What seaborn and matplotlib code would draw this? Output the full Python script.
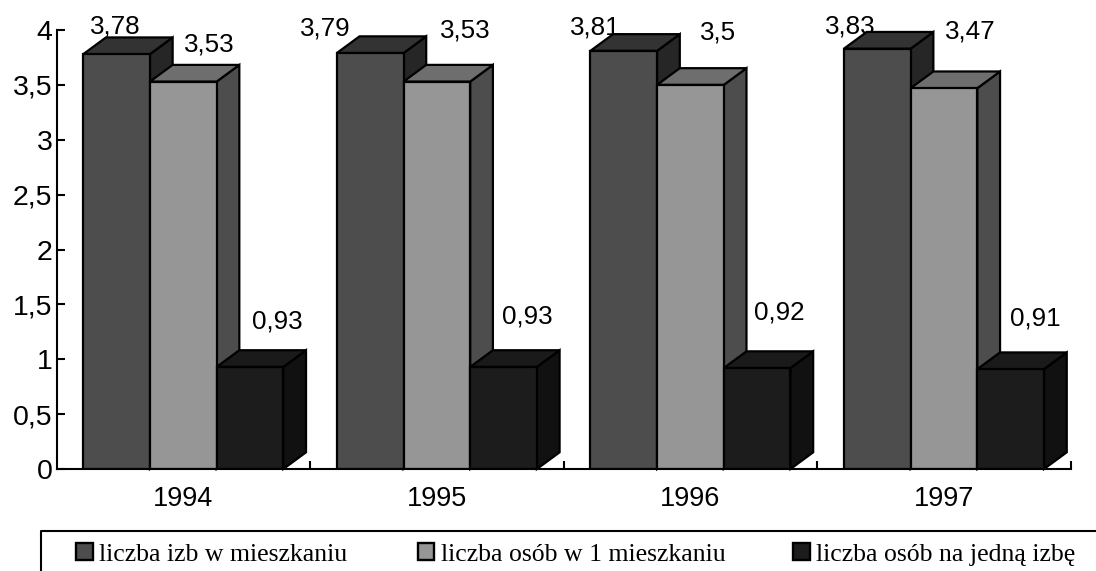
import matplotlib
matplotlib.use('Agg')
import matplotlib.pyplot as plt
import pandas as pd
import seaborn as sns
from matplotlib.patches import Patch, Polygon

# chart data
years = ['1994', '1995', '1996', '1997']
izby = [3.78, 3.79, 3.81, 3.83]
osoby = [3.53, 3.53, 3.50, 3.47]
na_izbe = [0.93, 0.93, 0.92, 0.91]
series_names = ['liczba izb w mieszkaniu', 'liczba osób w 1 mieszkaniu', 'liczba osób na jedną izbę']
y_ticks = [0, 0.5, 1, 1.5, 2, 2.5, 3, 3.5, 4]

# front, top and side colours for each series
front_colors = ['#4d4d4d', '#969696', '#1c1c1c']
top_colors = ['#333333', '#6e6e6e', '#1a1a1a']
side_colors = ['#262626', '#4d4d4d', '#111111']

# hand placed value labels, pixel shift from the front top centre of the bar
label_shifts = [
    [(-1, 28), (26, 37), (27, 45)],
    [(-45, 25), (28, 51), (24, 50)],
    [(-28, 23), (28, 52), (22, 56)],
    [(-27, 22), (26, 57), (25, 51)],
]
# left edge of each legend entry, in pixels
legend_x = [76, 417.5, 793]

W, H = 1096, 571
X0, X1, Y0, Y1 = 56.5, 1070.8, 469, 30
DEPTH_X, DEPTH_Y = 22.7, 16.7

df = pd.DataFrame({
    'year': years * 3,
    'value': izby + osoby + na_izbe,
    'series': [n for n in series_names for _ in years],
})

sns.set_style('white')
plt.rcParams['font.family'] = ['Liberation Sans', 'DejaVu Sans']
plt.rcParams['text.color'] = 'black'

fig = plt.figure(figsize=(W / 100, H / 100), dpi=100)
ax = fig.add_axes([X0 / W, 1 - Y0 / H, (X1 - X0) / W, (Y0 - Y1) / H])

sns.barplot(data=df, x='year', y='value', hue='series', hue_order=series_names,
            palette=front_colors, width=0.789, gap=0, saturation=1, dodge=True,
            edgecolor='black', linewidth=1.6, legend=False, ax=ax, zorder=3)

ax.set_xlim(-0.5, 3.5)
ax.set_ylim(0, 4)
ax.set_yticks(y_ticks)
ax.set_yticklabels([str(t).replace('.', ',') for t in y_ticks])
ax.set_xlabel('')
ax.set_ylabel('')
sns.despine(ax=ax)
for side in ['left', 'bottom']:
    ax.spines[side].set_linewidth(1.5)
    ax.spines[side].set_color('black')

# the year labels sit between inward ticks on the category borders
ax.tick_params(axis='y', direction='in', length=5.5, width=1.5, left=True,
               labelsize=20.5, pad=3, labelcolor='black', color='black')
ax.tick_params(axis='x', bottom=False, labelsize=19.5, pad=9, labelcolor='black')
ax.set_xticks([0.5, 1.5, 2.5, 3.5], minor=True)
ax.tick_params(axis='x', which='minor', direction='in', length=5.5, width=1.5,
               bottom=True, color='black')

# extruded tops and sides, built from the bars seaborn drew
px_x = (X1 - X0) / 4
px_y = (Y0 - Y1) / 4
ddx = DEPTH_X / px_x
ddy = DEPTH_Y / px_y
bars = [b for b in ax.patches if b.get_height() > 0]
n_years = len(years)
for i, bar in enumerate(bars):
    s = i // n_years
    yr = i % n_years
    left, right = bar.get_x(), bar.get_x() + bar.get_width()
    top = bar.get_height()
    z = 1 + s * 0.5
    bar.set_zorder(z + 0.2)
    side = Polygon([(right, 0), (right + ddx, ddy), (right + ddx, top + ddy), (right, top)],
                   facecolor=side_colors[s], edgecolor='black', linewidth=1.6,
                   joinstyle='miter', zorder=z, clip_on=False)
    lid = Polygon([(left, top), (left + ddx, top + ddy), (right + ddx, top + ddy), (right, top)],
                  facecolor=top_colors[s], edgecolor='black', linewidth=1.6,
                  joinstyle='miter', zorder=z + 0.1, clip_on=False)
    ax.add_patch(side)
    ax.add_patch(lid)
    shift = label_shifts[yr][s]
    ax.annotate(f'{top:g}'.replace('.', ','), (left + bar.get_width() / 2, top),
                xytext=(shift[0] * 0.72, shift[1] * 0.72), textcoords='offset points',
                ha='center', va='center', fontsize=18.7, color='black', zorder=0.5,
                annotation_clip=False)

# legend box runs off the right and bottom of the picture
fig.add_artist(plt.Line2D([40.5 / W, 40.5 / W, 1], [0, 1 - 531 / H, 1 - 531 / H],
                          color='black', linewidth=1.5))
for name, color, x in zip(series_names, front_colors, legend_x):
    handle = Patch(facecolor=color, edgecolor='black', linewidth=1.7)
    fig.legend([handle], [name], frameon=False, loc='center left',
               bbox_to_anchor=(x / W, 1 - 554.5 / H), borderaxespad=0, borderpad=0,
               handlelength=0.66, handleheight=0.66, handletextpad=0.25,
               prop={'family': 'Liberation Serif', 'size': 18.5})

fig.savefig('out.png', dpi=100)
